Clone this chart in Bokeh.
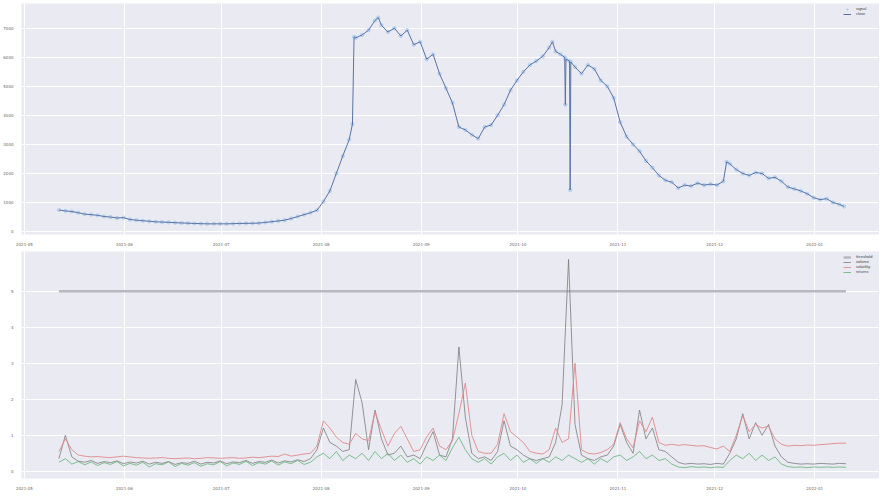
import pandas as pd
from bokeh.plotting import figure
from bokeh.layouts import column
from bokeh.models import Range1d, FixedTicker, DatetimeTickFormatter, ColumnDataSource
from bokeh.embed import file_html
from bokeh.resources import INLINE

# ---------------- data ----------------
start = pd.Timestamp("2021-05-11 16:48")

top_days = [0, 2, 4, 6, 8, 10, 12, 14, 16, 18, 20, 22, 24, 26, 28, 30, 32, 34, 36, 38,
            40, 42, 44, 46, 48, 50, 52, 54, 56, 58, 60, 62, 64, 66, 68, 70, 72, 74, 76, 78,
            80, 82, 84, 86, 88, 90, 91, 91.5, 92, 94, 96, 98, 99, 100, 102, 104, 106, 108, 110, 112,
            114, 116, 118, 120, 122, 124, 126, 128, 130, 132, 134, 136, 138, 140, 142, 144, 146, 148, 150, 152,
            153, 154, 155.5, 156.8, 157, 157.2, 158.3, 158.5, 158.7, 160, 162, 164, 166, 168, 170, 172, 174, 176, 178, 180,
            182, 184, 186, 188, 190, 192, 194, 196, 198, 200, 202, 204, 206, 207, 208, 210, 212, 214, 216, 218,
            220, 222, 224, 226, 228, 230, 232, 234, 236, 238, 240, 242, 243.4]
top_vals = [743, 713, 690, 650, 600, 583, 560, 520, 500, 470, 480, 417, 393, 373, 357, 337, 327, 320, 307, 297,
            290, 280, 273, 267, 267, 267, 267, 273, 280, 283, 287, 293, 317, 340, 367, 393, 450, 517, 583, 650,
            733, 1033, 1400, 2000, 2600, 3167, 3700, 6700, 6667, 6767, 6933, 7267, 7367, 7100, 6867, 7000, 6733, 6933, 6433, 6533,
            5933, 6100, 5433, 4933, 4433, 3600, 3500, 3333, 3200, 3600, 3667, 4000, 4367, 4867, 5200, 5500, 5733, 5867, 6033, 6333,
            6533, 6200, 6100, 6000, 4367, 5933, 5867, 1433, 5833, 5667, 5433, 5733, 5600, 5200, 5000, 4600, 3767, 3267, 3000, 2767,
            2433, 2200, 1933, 1767, 1700, 1500, 1600, 1567, 1667, 1600, 1633, 1600, 1733, 2400, 2333, 2133, 2000, 1933, 2033, 2000,
            1833, 1867, 1733, 1533, 1467, 1400, 1300, 1167, 1100, 1133, 1000, 933, 867]

bot_days = list(range(0, 245, 2))
red_vals = [0.55, 0.90, 0.60, 0.45, 0.42, 0.40, 0.41, 0.39, 0.38, 0.40, 0.42, 0.40, 0.38, 0.37, 0.36, 0.37, 0.38, 0.36, 0.35, 0.36,
            0.37, 0.35, 0.36, 0.38, 0.37, 0.36, 0.37, 0.38, 0.36, 0.37, 0.39, 0.38, 0.40, 0.42, 0.41, 0.48, 0.42, 0.45, 0.48, 0.50,
            0.70, 1.40, 1.20, 0.95, 0.80, 0.75, 1.05, 0.90, 0.85, 1.65, 1.15, 0.70, 1.05, 1.25, 0.90, 0.55, 0.60, 0.95, 1.20, 0.70,
            0.60, 0.85, 1.60, 2.45, 1.00, 0.55, 0.50, 0.50, 0.75, 1.60, 1.10, 0.95, 0.80, 0.55, 0.50, 0.48, 0.60, 1.20, 0.80, 0.90,
            3.00, 0.60, 0.50, 0.48, 0.52, 0.60, 0.75, 1.35, 0.90, 0.65, 1.40, 1.10, 1.50, 0.80, 0.72, 0.75, 0.72, 0.74, 0.72, 0.70,
            0.71, 0.66, 0.62, 0.70, 0.55, 1.00, 1.55, 1.10, 1.30, 1.20, 1.25, 0.90, 0.75, 0.70, 0.72, 0.71, 0.73, 0.72, 0.74, 0.75,
            0.77, 0.78, 0.78]
green_vals = [0.25, 0.35, 0.20, 0.27, 0.18, 0.26, 0.16, 0.24, 0.19, 0.27, 0.15, 0.22, 0.17, 0.25, 0.12, 0.21, 0.18, 0.26, 0.13, 0.22,
              0.17, 0.24, 0.14, 0.21, 0.18, 0.27, 0.15, 0.23, 0.19, 0.28, 0.16, 0.24, 0.20, 0.29, 0.17, 0.26, 0.21, 0.30, 0.19, 0.25,
              0.40, 0.50, 0.35, 0.55, 0.30, 0.45, 0.35, 0.50, 0.30, 0.55, 0.35, 0.50, 0.30, 0.45, 0.25, 0.35, 0.20, 0.40, 0.30, 0.45,
              0.30, 0.65, 0.95, 0.60, 0.35, 0.25, 0.35, 0.20, 0.40, 0.50, 0.30, 0.45, 0.25, 0.35, 0.22, 0.35, 0.25, 0.40, 0.30, 0.45,
              0.35, 0.25, 0.35, 0.20, 0.35, 0.25, 0.40, 0.45, 0.30, 0.40, 0.55, 0.35, 0.45, 0.30, 0.35, 0.20, 0.12, 0.10, 0.13, 0.11,
              0.12, 0.10, 0.12, 0.11, 0.30, 0.45, 0.35, 0.50, 0.30, 0.45, 0.30, 0.40, 0.20, 0.13, 0.11, 0.12, 0.10, 0.12, 0.11, 0.12,
              0.11, 0.12, 0.11]
gray_vals = [0.35, 1.00, 0.40, 0.28, 0.25, 0.30, 0.22, 0.27, 0.24, 0.29, 0.21, 0.26, 0.23, 0.28, 0.20, 0.25, 0.22, 0.27, 0.19, 0.24,
             0.22, 0.28, 0.20, 0.25, 0.23, 0.29, 0.21, 0.26, 0.24, 0.30, 0.22, 0.27, 0.25, 0.31, 0.23, 0.29, 0.26, 0.32, 0.27, 0.35,
             0.60, 1.20, 0.80, 0.70, 0.55, 0.60, 2.55, 1.90, 0.60, 1.70, 0.90, 0.45, 0.50, 0.70, 0.40, 0.45, 0.35, 0.75, 1.10, 0.45,
             0.40, 0.90, 3.45, 1.50, 0.50, 0.35, 0.40, 0.30, 0.55, 1.40, 0.70, 0.60, 0.45, 0.35, 0.30, 0.35, 0.40, 0.80, 1.85, 5.88,
             1.30, 0.45, 0.35, 0.30, 0.40, 0.45, 0.70, 1.30, 0.80, 0.50, 1.70, 0.90, 1.20, 0.60, 0.55, 0.40, 0.25, 0.20, 0.22, 0.20,
             0.21, 0.19, 0.22, 0.20, 0.50, 0.90, 1.60, 0.90, 1.35, 1.00, 1.30, 0.70, 0.40, 0.25, 0.22, 0.20, 0.21, 0.20, 0.22, 0.21,
             0.20, 0.22, 0.21]
threshold_days = [0, 244]
threshold_vals = [5.0, 5.0]

top_ticks_y = [0, 1000, 2000, 3000, 4000, 5000, 6000, 7000]
bot_ticks_y = [0, 1, 2, 3, 4, 5]
tick_dates = ["2021-05-01", "2021-06-01", "2021-07-01", "2021-08-01", "2021-09-01",
              "2021-10-01", "2021-11-01", "2021-12-01", "2022-01-01"]

# ---------------- helpers ----------------
def to_dt(days):
    return [start + pd.Timedelta(days=d) for d in days]

x_lo = start + pd.Timedelta(days=-11.6)
x_hi = start + pd.Timedelta(days=254.4)
xticks = [pd.Timestamp(t).value / 1e6 for t in tick_dates]
fmt = DatetimeTickFormatter(days="%Y-%m", months="%Y-%m", years="%Y-%m", hours="%Y-%m")

BG = "#eaeaf2"
W = 879


def style(p, yticks):
    p.background_fill_color = BG
    p.border_fill_color = "white"
    p.outline_line_color = None
    p.xgrid.grid_line_color = "white"
    p.ygrid.grid_line_color = "white"
    p.xgrid.grid_line_width = 1
    p.ygrid.grid_line_width = 1
    p.xaxis.ticker = FixedTicker(ticks=xticks)
    p.xaxis.formatter = fmt
    p.yaxis.ticker = FixedTicker(ticks=yticks)
    for ax in (p.xaxis, p.yaxis):
        ax.axis_line_color = None
        ax.major_tick_line_color = None
        ax.minor_tick_line_color = None
        ax.major_label_text_font_size = "4px"
        ax.major_label_text_color = "#666666"
        ax.major_label_standoff = 2
        ax.major_label_text_font = "DejaVu Sans"
    p.legend.location = "top_right"
    p.legend.label_text_font_size = "4px"
    p.legend.label_text_color = "#444444"
    p.legend.glyph_height = 4
    p.legend.glyph_width = 8
    p.legend.label_height = 4
    p.legend.spacing = 0
    p.legend.padding = 2
    p.legend.margin = 1
    p.legend.background_fill_color = BG
    p.legend.background_fill_alpha = 0.8
    p.legend.border_line_alpha = 0


# ---------------- top ----------------
top_src = ColumnDataSource(dict(x=to_dt(top_days), y=top_vals))
p1 = figure(width=W, height=248, x_axis_type="datetime", output_backend="svg",
            toolbar_location=None, x_range=Range1d(x_lo, x_hi), y_range=Range1d(-100, 7850),
            min_border_left=2, min_border_right=0, min_border_top=3, min_border_bottom=0)
p1.scatter("x", "y", source=top_src, size=3.5, color="#a6c8ec", alpha=0.6, legend_label="signal")
p1.line("x", "y", source=top_src, line_color="#5873a3", line_width=1, legend_label="close")
style(p1, top_ticks_y)

# ---------------- bottom ----------------
bx = to_dt(bot_days)
p2 = figure(width=W, height=244, x_axis_type="datetime", output_backend="svg",
            toolbar_location=None, x_range=p1.x_range, y_range=Range1d(-0.2, 6.1),
            min_border_left=2, min_border_right=0, min_border_top=3, min_border_bottom=0)
p2.line(to_dt(threshold_days), threshold_vals, line_color="#b8b8c0", line_width=2.5, legend_label="threshold")
p2.line(bx, gray_vals, line_color="#767676", line_width=1, alpha=0.75, legend_label="volume")
p2.line(bx, red_vals, line_color="#e08a8b", line_width=1, alpha=0.9, legend_label="volatility")
p2.line(bx, green_vals, line_color="#5fb374", line_width=1, alpha=0.8, legend_label="returns")
style(p2, bot_ticks_y)

layout = column(p1, p2, spacing=0)
open("out.html", "w").write(file_html(layout, INLINE))
